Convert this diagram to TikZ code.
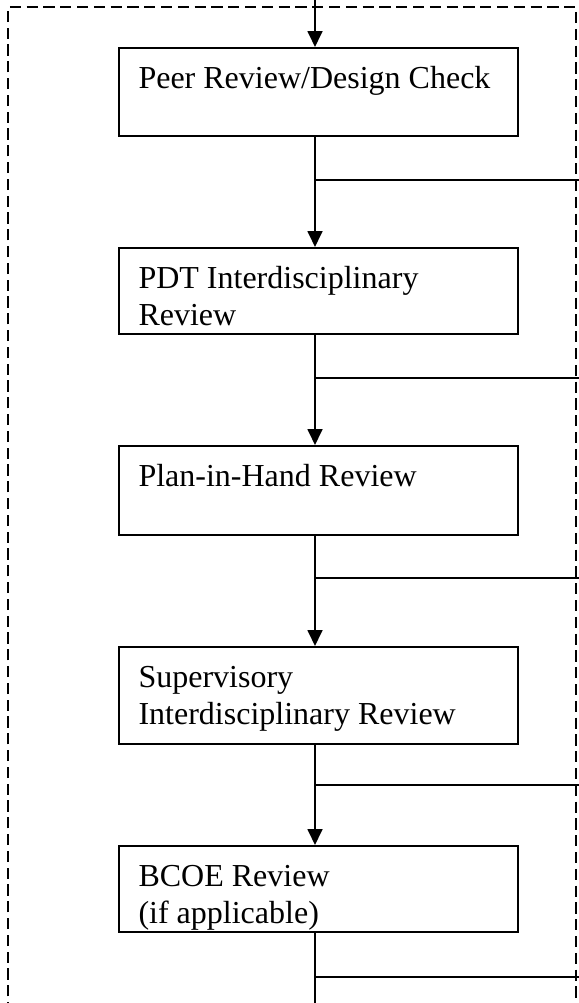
\documentclass[tikz,border=0pt]{standalone}
\usepackage{fontspec}
\setmainfont{Liberation Serif}
\usetikzlibrary{arrows.meta,calc}
\begin{document}
\begin{tikzpicture}[x=0.375pt,y=-0.375pt,
  box/.style={draw,line width=0.75pt,rectangle,inner sep=0pt,minimum width=149.625pt,anchor=north west},
  txt/.style={anchor=base west,inner sep=0pt,font=\fontsize{12}{13.8}\selectfont},
  flow/.style={line width=0.75pt,-{Triangle[length=6pt,width=5.6pt]}},
  link/.style={line width=0.75pt},
  branch/.style={line width=0.6pt},
  frame/.style={line width=1pt,dash pattern=on 4.2pt off 2.1pt}]
\useasboundingbox (0,0) rectangle (579,1003);

% dashed frame
\coordinate (f1) at (8,1030);
\coordinate (f2) at (8,7);
\coordinate (f3) at (576,7);
\coordinate (f4) at (576,1030);
\draw[frame] (f1) -- (f2) -- (f3) -- (f4);

% boxes
\node[box,minimum height=33pt]     (b1) at (118,47)  {};
\node[box,minimum height=32.25pt]  (b2) at (118,247) {};
\node[box,minimum height=33.375pt] (b3) at (118,445) {};
\node[box,minimum height=36.375pt] (b4) at (118,646) {};
\node[box,minimum height=32.25pt]  (b5) at (118,845) {};

% texts
\node[txt] (t1)  at ($(b1.north west)+(20,41)$) {Peer Review/Design Check};
\node[txt] (t2a) at ($(b2.north west)+(20,41)$) {PDT Interdisciplinary};
\node[txt] (t2b) at ($(b2.north west)+(20,78)$) {Review};
\node[txt] (t3)  at ($(b3.north west)+(20,41)$) {Plan-in-Hand Review};
\node[txt] (t4a) at ($(b4.north west)+(20,41)$) {Supervisory};
\node[txt] (t4b) at ($(b4.north west)+(20,78)$) {Interdisciplinary Review};
\node[txt] (t5a) at ($(b5.north west)+(20,41)$) {BCOE Review};
\node[txt] (t5b) at ($(b5.north west)+(20,78)$) {(if applicable)};

% junctions
\coordinate (top) at (315,0);
\coordinate (j1) at (315,180); \coordinate (e1) at (579,180);
\coordinate (j2) at (315,378); \coordinate (e2) at (579,378);
\coordinate (j3) at (315,578); \coordinate (e3) at (579,578);
\coordinate (j4) at (315,785); \coordinate (e4) at (579,785);
\coordinate (j5) at (315,977); \coordinate (e5) at (579,977);
\coordinate (bot) at (315,1010);

% connectors
\draw[flow] (top) -- (b1.north -| top);
\draw[link] (b1.south -| top) -- (j1);
\draw[flow] (j1) -- (b2.north -| top);
\draw[link] (b2.south -| top) -- (j2);
\draw[flow] (j2) -- (b3.north -| top);
\draw[link] (b3.south -| top) -- (j3);
\draw[flow] (j3) -- (b4.north -| top);
\draw[link] (b4.south -| top) -- (j4);
\draw[flow] (j4) -- (b5.north -| top);
\draw[link] (b5.south -| top) -- (j5) -- (bot);

% branches
\draw[branch] (j1) -- (e1);
\draw[branch] (j2) -- (e2);
\draw[branch] (j3) -- (e3);
\draw[branch] (j4) -- (e4);
\draw[branch] (j5) -- (e5);
\end{tikzpicture}
\end{document}
